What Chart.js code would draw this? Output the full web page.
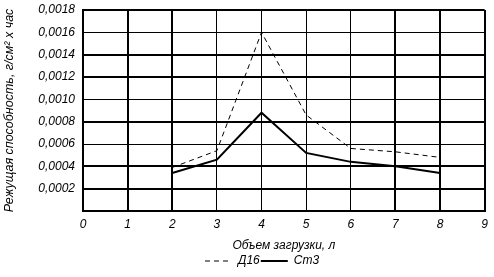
<!DOCTYPE html>
<html>
<head>
<meta charset="utf-8">
<script src="https://cdn.jsdelivr.net/npm/chart.js@4.4.1/dist/chart.umd.min.js"></script>
<style>
  html, body { margin: 0; padding: 0; background: #fff; }
  #wrap { width: 494px; height: 277px; }
</style>
</head>
<body>
<div id="wrap"><canvas id="chart" width="494" height="277"></canvas></div>
<script>
"use strict";

// объем загрузки, л
const loads = [2, 3, 4, 5, 6, 7, 8];
// режущая способность, г/см2 х час
const d16 = [0.00039, 0.00054, 0.00160, 0.00086, 0.00056, 0.00053, 0.00048];
const st3 = [0.00034, 0.00046, 0.00088, 0.00052, 0.00044, 0.00040, 0.00034];
const yTickLabels = ["", "0,0002", "0,0004", "0,0006", "0,0008", "0,0010",
  "0,0012", "0,0014", "0,0016", "0,0018"];
const xTickLabels = ["0", "1", "2", "3", "4", "5", "6", "7", "8", "9"];

// толщина линий сетки как на рисунке
const X_GRID_W = [2, 2, 2, 1, 1, 1, 1, 2, 2, 2];
const Y_GRID_W = [2, 2, 2, 1, 2, 1, 2, 2, 1, 2];

const FAMILY = "'Liberation Sans', Arial, sans-serif";
const FONT = { family: FAMILY, size: 12, style: "italic" };

const toPoints = (ys) => loads.map((x, i) => ({ x, y: ys[i] }));

// легенда начинается с x = 205, как на исходном рисунке
const legendPlace = {
  id: "legendPlace",
  afterLayout(chart) {
    if (chart.legend) chart.legend.left = 204;
  },
};

new Chart(document.getElementById("chart"), {
  type: "line",
  data: {
    datasets: [
      {
        label: "Д16",
        data: toPoints(d16),
        borderColor: "#000",
        borderWidth: 1,
        borderDash: [5, 4],
        pointRadius: 0,
        tension: 0,
      },
      {
        label: "Ст3",
        data: toPoints(st3),
        borderColor: "#000",
        borderWidth: 2,
        pointRadius: 0,
        tension: 0,
      },
    ],
  },
  plugins: [legendPlace],
  options: {
    responsive: false,
    animation: false,
    layout: { padding: { left: 0, right: 7, top: 10, bottom: 0 } },
    scales: {
      x: {
        type: "linear",
        min: 0,
        max: 9,
        ticks: {
          stepSize: 1,
          color: "#000",
          font: FONT,
          padding: 6,
          maxRotation: 0,
          callback: (v, i) => xTickLabels[i],
        },
        grid: {
          color: "#000",
          lineWidth: (c) => X_GRID_W[c.index] || 1,
          drawTicks: false,
        },
        border: { color: "#000", width: 2 },
        title: {
          display: true,
          text: "Объем загрузки, л",
          color: "#000",
          font: FONT,
          padding: { top: 4, bottom: 1 },
        },
        afterFit: (s) => { s.height = 43; },
      },
      y: {
        min: 0,
        max: 0.0018,
        ticks: {
          stepSize: 0.0002,
          color: "#000",
          font: FONT,
          padding: 8,
          callback: (v, i) => yTickLabels[i],
        },
        grid: {
          color: "#000",
          lineWidth: (c) => Y_GRID_W[c.index] || 1,
          drawTicks: false,
        },
        border: { color: "#000", width: 2 },
        title: {
          display: true,
          text: "Режущая способность, г/см² х час",
          color: "#000",
          font: { family: FAMILY, size: 12.5, style: "italic" },
          padding: { top: 2, bottom: 4 },
        },
        afterFit: (s) => {
          s.width = 83;
          s.paddingTop = 0;
          s.paddingBottom = 0;
        },
      },
    },
    plugins: {
      legend: {
        position: "bottom",
        align: "start",
        labels: {
          color: "#000",
          font: FONT,
          usePointStyle: true,
          pointStyle: "line",
          pointStyleWidth: 27,
          boxHeight: 10,
          padding: 1,
          generateLabels: (chart) =>
            Chart.defaults.plugins.legend.labels.generateLabels(chart).map((it, i) => {
              const ds = chart.data.datasets[i];
              return Object.assign(it, {
                strokeStyle: "#000",
                lineDash: ds.borderDash || [],
                lineWidth: ds.borderWidth,
              });
            }),
        },
      },
      tooltip: { enabled: false },
    },
  },
});
</script>
</body>
</html>
